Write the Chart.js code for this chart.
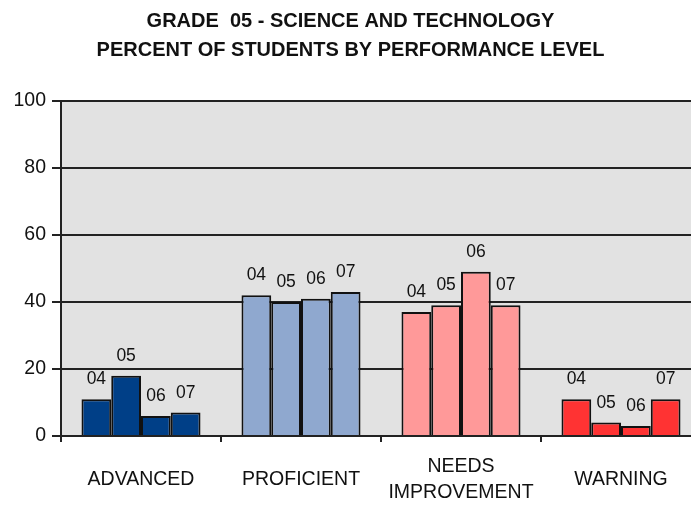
<!DOCTYPE html>
<html lang="en">
<head>
  <meta charset="UTF-8" />
  <title>Grade 05 Science and Technology</title>
  <script src="https://cdn.jsdelivr.net/npm/chart.js"></script>
  <style>
    body {
      margin: 0;
      background: #fff;
      overflow: hidden;
    }

    .chart-box {
      width: 691px;
      height: 506px;
      overflow: hidden;
    }
  </style>
</head>
<body>

<div class="chart-box">
  <canvas id="chart" width="712" height="506"></canvas>
</div>

<script>
const categories = ['ADVANCED', 'PROFICIENT', ['NEEDS', 'IMPROVEMENT'], 'WARNING'];
const years = ['04', '05', '06', '07'];
const y04 = [11, 42, 37, 11];
const y05 = [18, 40, 39, 4];
const y06 = [6, 41, 49, 3];
const y07 = [7, 43, 39, 11];
const yTicks = [0, 20, 40, 60, 80, 100];

const levelColors = ['#003f87', '#8fa8cf', '#ff9999', '#ff3333'];
const textFont = "'Liberation Sans', Arial, sans-serif";

// gray plot area behind the bars
const plotBackground = {
  id: 'plotBackground',
  beforeDraw(chart) {
    const { ctx, chartArea } = chart;
    ctx.save();
    ctx.fillStyle = '#e2e2e2';
    ctx.fillRect(chartArea.left, chartArea.top, chartArea.right - chartArea.left, chartArea.bottom - chartArea.top);
    ctx.restore();
  }
};

// year label above every bar
const yearLabels = {
  id: 'yearLabels',
  afterDatasetsDraw(chart) {
    const ctx = chart.ctx;
    ctx.save();
    ctx.font = `17.5px ${textFont}`;
    ctx.fillStyle = '#111';
    ctx.textAlign = 'center';
    ctx.textBaseline = 'alphabetic';
    chart.data.datasets.forEach((ds, i) => {
      chart.getDatasetMeta(i).data.forEach(bar => {
        ctx.fillText(ds.label, bar.x, bar.y - 15);
      });
    });
    ctx.restore();
  }
};

const datasets = [y04, y05, y06, y07].map((vals, i) => ({
  label: years[i],
  data: vals,
  backgroundColor: levelColors,
  borderColor: '#111',
  borderWidth: 2,
  categoryPercentage: 0.744,
  barPercentage: 1
}));

new Chart(document.getElementById('chart'), {
  type: 'bar',
  data: { labels: categories, datasets },
  options: {
    responsive: false,
    animation: false,
    layout: { padding: { left: 0, right: 11, top: 0, bottom: 0 } },
    plugins: {
      legend: { display: false },
      tooltip: { enabled: false },
      title: {
        display: true,
        text: ['GRADE  05 - SCIENCE AND TECHNOLOGY', 'PERCENT OF STUDENTS BY PERFORMANCE LEVEL'],
        color: '#111',
        font: { family: textFont, size: 20, weight: 'bold', lineHeight: 1.45 },
        padding: { top: 7, bottom: 36 }
      }
    },
    scales: {
      x: {
        grid: { drawOnChartArea: false, drawTicks: true, tickLength: 6, color: '#222', lineWidth: 2 },
        border: { display: true, color: '#222', width: 2 },
        ticks: {
          color: '#111',
          font: { family: textFont, size: 19.5, lineHeight: 1.3 },
          padding: 25,
          crossAlign: 'center',
          maxRotation: 0,
          autoSkip: false
        },
        afterFit(scale) { scale.height = 70; }
      },
      y: {
        min: 0,
        max: 100,
        afterBuildTicks(scale) { scale.ticks = yTicks.map(v => ({ value: v })); },
        grid: { color: '#222', lineWidth: 2, tickLength: 9 },
        border: { display: true, color: '#222', width: 2 },
        ticks: {
          color: '#111',
          font: { family: textFont, size: 19.5 },
          padding: 6
        },
        afterFit(scale) { scale.width = 61; }
      }
    }
  },
  plugins: [plotBackground, yearLabels]
});
</script>

</body>
</html>
